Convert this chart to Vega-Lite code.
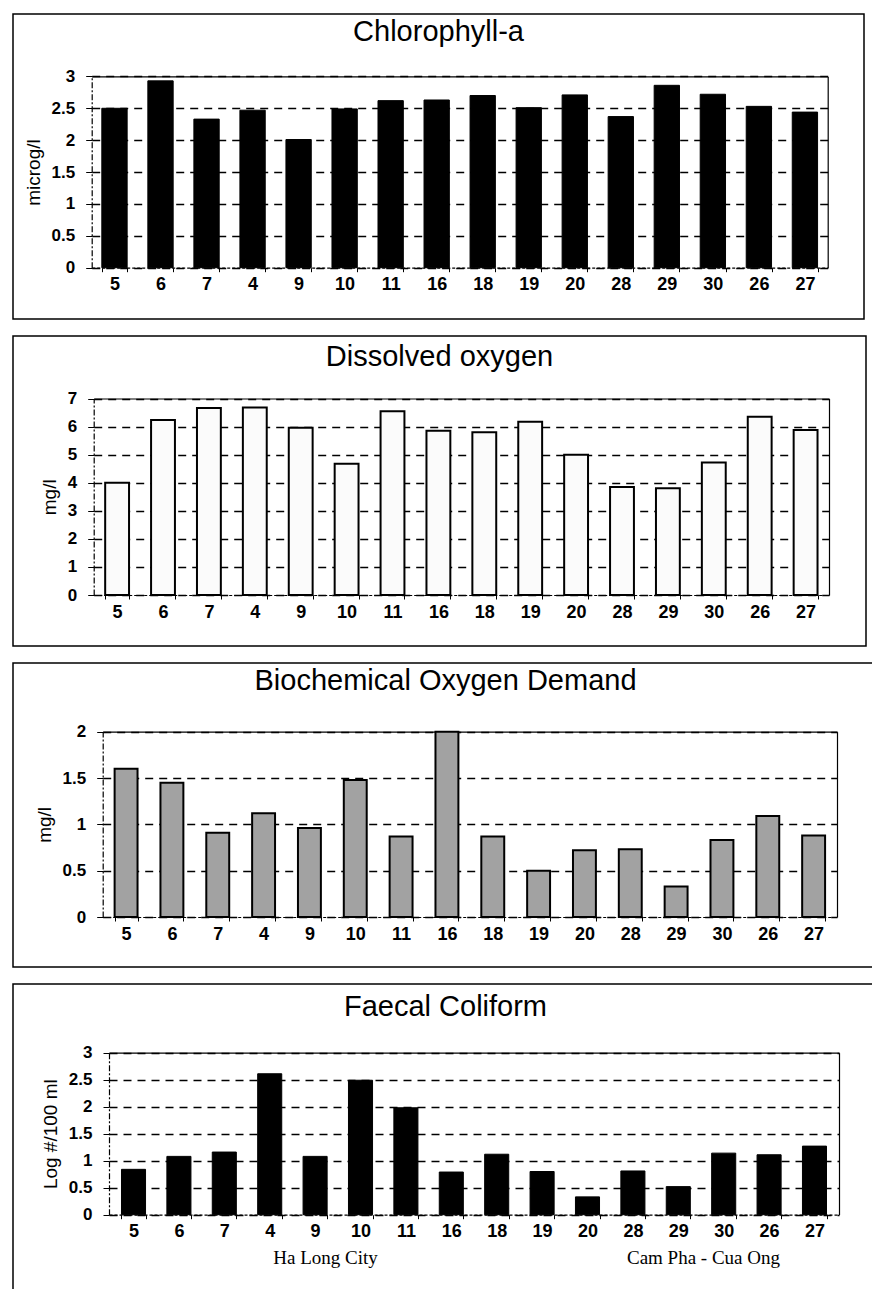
{
  "$schema": "https://vega.github.io/schema/vega-lite/v6.json",
  "background": "white",
  "padding": {"left": 12, "top": 13, "right": 0, "bottom": 0},
  "spacing": 15,
  "datasets": {
    "chl": [
      {"station": "5", "value": 2.5}, {"station": "6", "value": 2.93}, {"station": "7", "value": 2.33},
      {"station": "4", "value": 2.47}, {"station": "9", "value": 2.01}, {"station": "10", "value": 2.49},
      {"station": "11", "value": 2.62}, {"station": "16", "value": 2.63}, {"station": "18", "value": 2.7},
      {"station": "19", "value": 2.51}, {"station": "20", "value": 2.71}, {"station": "28", "value": 2.37},
      {"station": "29", "value": 2.86}, {"station": "30", "value": 2.72}, {"station": "26", "value": 2.53},
      {"station": "27", "value": 2.44}
    ],
    "do": [
      {"station": "5", "value": 4.0}, {"station": "6", "value": 6.23}, {"station": "7", "value": 6.66},
      {"station": "4", "value": 6.68}, {"station": "9", "value": 5.96}, {"station": "10", "value": 4.68},
      {"station": "11", "value": 6.55}, {"station": "16", "value": 5.85}, {"station": "18", "value": 5.8},
      {"station": "19", "value": 6.17}, {"station": "20", "value": 5.0}, {"station": "28", "value": 3.85},
      {"station": "29", "value": 3.8}, {"station": "30", "value": 4.72}, {"station": "26", "value": 6.35},
      {"station": "27", "value": 5.88}
    ],
    "bod": [
      {"station": "5", "value": 1.6}, {"station": "6", "value": 1.45}, {"station": "7", "value": 0.91},
      {"station": "4", "value": 1.12}, {"station": "9", "value": 0.96}, {"station": "10", "value": 1.48},
      {"station": "11", "value": 0.87}, {"station": "16", "value": 2.0}, {"station": "18", "value": 0.87},
      {"station": "19", "value": 0.5}, {"station": "20", "value": 0.72}, {"station": "28", "value": 0.73},
      {"station": "29", "value": 0.33}, {"station": "30", "value": 0.83}, {"station": "26", "value": 1.09},
      {"station": "27", "value": 0.88}
    ],
    "fc": [
      {"station": "5", "value": 0.84}, {"station": "6", "value": 1.08}, {"station": "7", "value": 1.16},
      {"station": "4", "value": 2.61}, {"station": "9", "value": 1.08}, {"station": "10", "value": 2.49},
      {"station": "11", "value": 1.98}, {"station": "16", "value": 0.79}, {"station": "18", "value": 1.12},
      {"station": "19", "value": 0.8}, {"station": "20", "value": 0.33}, {"station": "28", "value": 0.81},
      {"station": "29", "value": 0.52}, {"station": "30", "value": 1.14}, {"station": "26", "value": 1.11},
      {"station": "27", "value": 1.27}
    ],
    "regions": [
      {"region": "Ha Long City"},
      {"region": "Cam  Pha - Cua Ong"}
    ]
  },
  "config": {
    "view": {"stroke": "black", "strokeWidth": 1.5},
    "title": {"font": "Liberation Sans", "fontSize": 29, "fontWeight": "normal", "color": "black", "frame": "group", "anchor": "middle"},
    "axis": {
      "labelFont": "Liberation Sans",
      "labelColor": "black",
      "titleFont": "Liberation Sans",
      "titleColor": "black",
      "titleFontWeight": "normal",
      "domainColor": "black",
      "tickColor": "black",
      "gridColor": "black"
    },
    "axisX": {
      "labelAngle": 0,
      "labelFontSize": 18,
      "labelFontWeight": "bold",
      "labelPadding": 4,
      "tickSize": 4,
      "tickBand": "extent",
      "domainDash": [3, 2],
      "domainWidth": 1.2,
      "labelOverlap": false,
      "grid": false,
      "title": null
    },
    "axisY": {
      "labelFontSize": 17,
      "labelFontWeight": "bold",
      "labelPadding": 11,
      "tickSize": 6,
      "titleFontSize": 19,
      "titlePadding": 8,
      "domainDash": [6, 2, 2, 2],
      "domainWidth": 1.2,
      "labelFlush": false,
      "format": ".1~f",
      "grid": true,
      "gridDash": [8, 6],
      "gridWidth": 1.3
    }
  },
  "vconcat": [
    {
      "width": 851,
      "height": 305,
      "title": {"text": "Chlorophyll-a", "offset": -33},
      "data": {"name": "chl"},
      "resolve": {"axis": {"x": "independent", "y": "independent"}},
      "layer": [
        {
          "mark": {"type": "bar", "color": "black"},
          "encoding": {
            "x": {"field": "station", "type": "ordinal", "sort": null,
                  "scale": {"range": [78.7, 814.7], "paddingInner": 0.45, "paddingOuter": 0.22},
                  "axis": {"orient": "bottom", "offset": -51.3}},
            "y": {"field": "value", "type": "quantitative",
                  "scale": {"domain": [0, 3], "range": [253.7, 62.4], "nice": false},
                  "axis": {"orient": "left", "offset": -78.7, "title": "microg/l", "values": [0, 0.5, 1, 1.5, 2, 2.5, 3]}}
          }
        },
        {
          "mark": {"type": "bar", "filled": false, "color": "black", "strokeWidth": 1},
          "encoding": {
            "x": {"field": "station", "type": "ordinal", "sort": null,
                  "axis": {"orient": "top", "offset": -62.4, "labels": false, "ticks": false, "domainDash": [], "title": null}},
            "y": {"field": "value", "type": "quantitative",
                  "axis": {"orient": "right", "offset": -36.3, "labels": false, "ticks": false, "grid": false, "domainDash": [], "title": null}}
          }
        }
      ]
    },
    {
      "width": 853,
      "height": 310,
      "title": {"text": "Dissolved oxygen", "offset": -36},
      "data": {"name": "do"},
      "resolve": {"axis": {"x": "independent", "y": "independent"}},
      "layer": [
        {
          "mark": {"type": "bar", "color": "#fbfbfb"},
          "encoding": {
            "x": {"field": "station", "type": "ordinal", "sort": null,
                  "scale": {"range": [80.7, 816], "paddingInner": 0.48, "paddingOuter": 0.25},
                  "axis": {"orient": "bottom", "offset": -51}},
            "y": {"field": "value", "type": "quantitative",
                  "scale": {"domain": [0, 7], "range": [259, 62.5], "nice": false},
                  "axis": {"orient": "left", "offset": -80.7, "title": "mg/l", "values": [0, 1, 2, 3, 4, 5, 6, 7]}}
          }
        },
        {
          "mark": {"type": "bar", "filled": false, "color": "black", "strokeWidth": 2},
          "encoding": {
            "x": {"field": "station", "type": "ordinal", "sort": null,
                  "axis": {"orient": "top", "offset": -62.5, "labels": false, "ticks": false, "domainDash": [], "title": null}},
            "y": {"field": "value", "type": "quantitative",
                  "axis": {"orient": "right", "offset": -37, "labels": false, "ticks": false, "grid": false, "domainDash": [], "title": null}}
          }
        }
      ]
    },
    {
      "width": 865,
      "height": 304,
      "title": {"text": "Biochemical Oxygen Demand", "offset": -33},
      "data": {"name": "bod"},
      "resolve": {"axis": {"x": "independent", "y": "independent"}},
      "layer": [
        {
          "mark": {"type": "bar", "color": "#a2a2a2"},
          "encoding": {
            "x": {"field": "station", "type": "ordinal", "sort": null,
                  "scale": {"range": [89.7, 824], "paddingInner": 0.5, "paddingOuter": 0.26},
                  "axis": {"orient": "bottom", "offset": -50}},
            "y": {"field": "value", "type": "quantitative",
                  "scale": {"domain": [0, 2], "range": [254, 68.7], "nice": false},
                  "axis": {"orient": "left", "offset": -89.7, "title": "mg/l", "values": [0, 0.5, 1, 1.5, 2]}}
          }
        },
        {
          "mark": {"type": "bar", "filled": false, "color": "black", "strokeWidth": 2},
          "encoding": {
            "x": {"field": "station", "type": "ordinal", "sort": null,
                  "axis": {"orient": "top", "offset": -68.7, "labels": false, "ticks": false, "domainDash": [], "title": null}},
            "y": {"field": "value", "type": "quantitative",
                  "axis": {"orient": "right", "offset": -41, "labels": false, "ticks": false, "grid": false, "domainDash": [], "title": null}}
          }
        }
      ]
    },
    {
      "width": 865,
      "height": 320,
      "title": {"text": "Faecal Coliform", "offset": -38},
      "resolve": {"scale": {"x": "independent"}, "axis": {"x": "independent", "y": "independent"}},
      "layer": [
        {
          "data": {"name": "fc"},
          "mark": {"type": "bar", "color": "black"},
          "encoding": {
            "x": {"field": "station", "type": "ordinal", "sort": null,
                  "scale": {"range": [96, 826], "paddingInner": 0.47, "paddingOuter": 0.275},
                  "axis": {"orient": "bottom", "offset": -89.3}},
            "y": {"field": "value", "type": "quantitative",
                  "scale": {"domain": [0, 3], "range": [230.7, 68.7], "nice": false},
                  "axis": {"orient": "left", "offset": -96, "title": "Log #/100 ml", "values": [0, 0.5, 1, 1.5, 2, 2.5, 3]}}
          }
        },
        {
          "data": {"name": "fc"},
          "mark": {"type": "bar", "filled": false, "color": "black", "strokeWidth": 1},
          "encoding": {
            "x": {"field": "station", "type": "ordinal", "sort": null,
                  "scale": {"range": [96, 826], "paddingInner": 0.47, "paddingOuter": 0.275},
                  "axis": {"orient": "top", "offset": -68.7, "labels": false, "ticks": false, "domainDash": [], "title": null}},
            "y": {"field": "value", "type": "quantitative",
                  "axis": {"orient": "right", "offset": -39, "labels": false, "ticks": false, "grid": false, "domainDash": [], "title": null}}
          }
        },
        {
          "data": {"name": "regions"},
          "mark": {"type": "point", "opacity": 0},
          "encoding": {
            "x": {"field": "region", "type": "nominal", "sort": null,
                  "scale": {"type": "point", "range": [312, 690], "padding": 0},
                  "axis": {"orient": "bottom", "offset": -56, "title": null, "ticks": false, "domain": false,
                           "labelFont": "Liberation Serif", "labelFontSize": 19, "labelFontWeight": "normal", "labelPadding": 0}}
          }
        }
      ]
    }
  ]
}
